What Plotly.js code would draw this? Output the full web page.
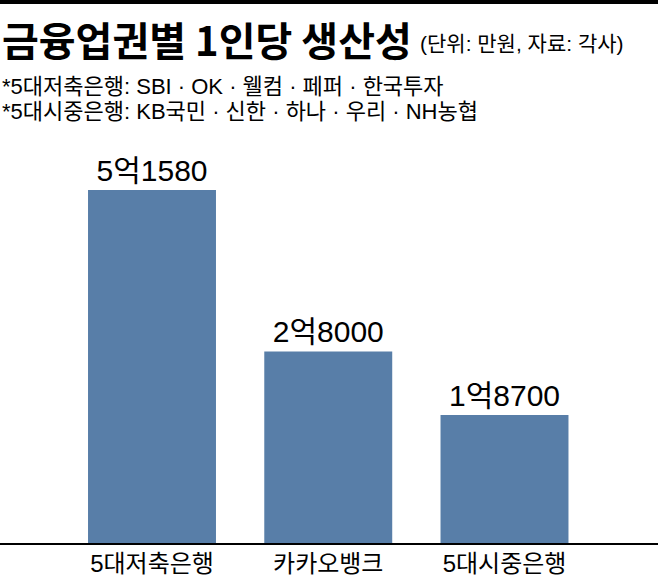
<!DOCTYPE html>
<html>
<head>
<meta charset="utf-8">
<script src="https://cdn.plot.ly/plotly-3.0.1.min.js"></script>
<style>
html,body{margin:0;padding:0;background:#fff;}
#chart{width:658px;height:578px;}
</style>
</head>
<body>
<div id="chart"></div>
<script>
// ---- data ----
const categories = ['5대저축은행', '카카오뱅크', '5대시중은행'];
const values = [51580, 28000, 18700]; // 만원
const valueLabels = ['5억1580', '2억8000', '1억8700'];
const titleText = '금융업권별 1인당 생산성';
const subtitleText = '(단위: 만원, 자료: 각사)';
const noteLines = ['*5대저축은행: SBI · OK · 웰컴 · 페퍼 · 한국투자', '*5대시중은행: KB국민 · 신한 · 하나 · 우리 · NH농협'];

// ---- layout constants ----
const W = 658, H = 578;
const mT = 150, mB = 35;
const plotH = H - mT - mB;
const baseY = H - mB;
const pxPerUnit = 353 / 51580;
const yMax = plotH / pxPerUnit;
const py = p => (baseY - p) / plotH;
const catPx = 176.25, firstCenter = 152;
const xr = [-firstCenter / catPx, (W - firstCenter) / catPx];

const KFONT = '"Liberation Sans", "Noto Sans CJK KR", sans-serif';

const trace = {
  type: 'bar',
  x: categories,
  y: values,
  text: valueLabels,
  textposition: 'outside',
  texttemplate: '%{text}',
  textfont: {family: KFONT, size: 30, color: '#000'},
  marker: {color: '#587ea8', line: {width: 0}},
  cliponaxis: false,
  hoverinfo: 'none'
};

const layout = {
  width: W, height: H,
  margin: {l: 0, r: 0, t: mT, b: mB, pad: 0},
  paper_bgcolor: '#fff', plot_bgcolor: '#fff',
  showlegend: false,
  bargap: 0.274,
  xaxis: {
    type: 'category',
    range: xr,
    showline: true, linecolor: '#000', linewidth: 2,
    showgrid: false, zeroline: false,
    ticks: '', ticklen: 0,
    ticklabelstandoff: -2,
    tickfont: {family: KFONT, size: 24, color: '#000'},
    fixedrange: true
  },
  yaxis: {
    range: [0, yMax],
    visible: false, showgrid: false, zeroline: false,
    fixedrange: true
  },
  shapes: [
    {type: 'rect', xref: 'paper', yref: 'paper', x0: 0, x1: 1, y0: py(4), y1: py(0),
     fillcolor: '#000', line: {width: 0}, layer: 'above'}
  ],
  annotations: [
    {xref: 'paper', yref: 'paper', x: 0, y: py(39), xanchor: 'left', yanchor: 'middle',
     text: '<b>' + titleText + '</b>', showarrow: false,
     font: {family: '"Noto Sans CJK KR", sans-serif', size: 40, color: '#000', weight: 900}},
    {xref: 'paper', yref: 'paper', x: 418 / W, y: py(44), xanchor: 'left', yanchor: 'middle',
     text: subtitleText, showarrow: false,
     font: {family: KFONT, size: 21, color: '#000'}},
    {xref: 'paper', yref: 'paper', x: 0, y: py(86), xanchor: 'left', yanchor: 'middle',
     text: noteLines[0], showarrow: false,
     font: {family: KFONT, size: 22, color: '#000'}},
    {xref: 'paper', yref: 'paper', x: 0, y: py(112), xanchor: 'left', yanchor: 'middle',
     text: noteLines[1], showarrow: false,
     font: {family: KFONT, size: 22, color: '#000'}}
  ]
};

Plotly.newPlot('chart', [trace], layout, {displayModeBar: false, staticPlot: true});
</script>
</body>
</html>
